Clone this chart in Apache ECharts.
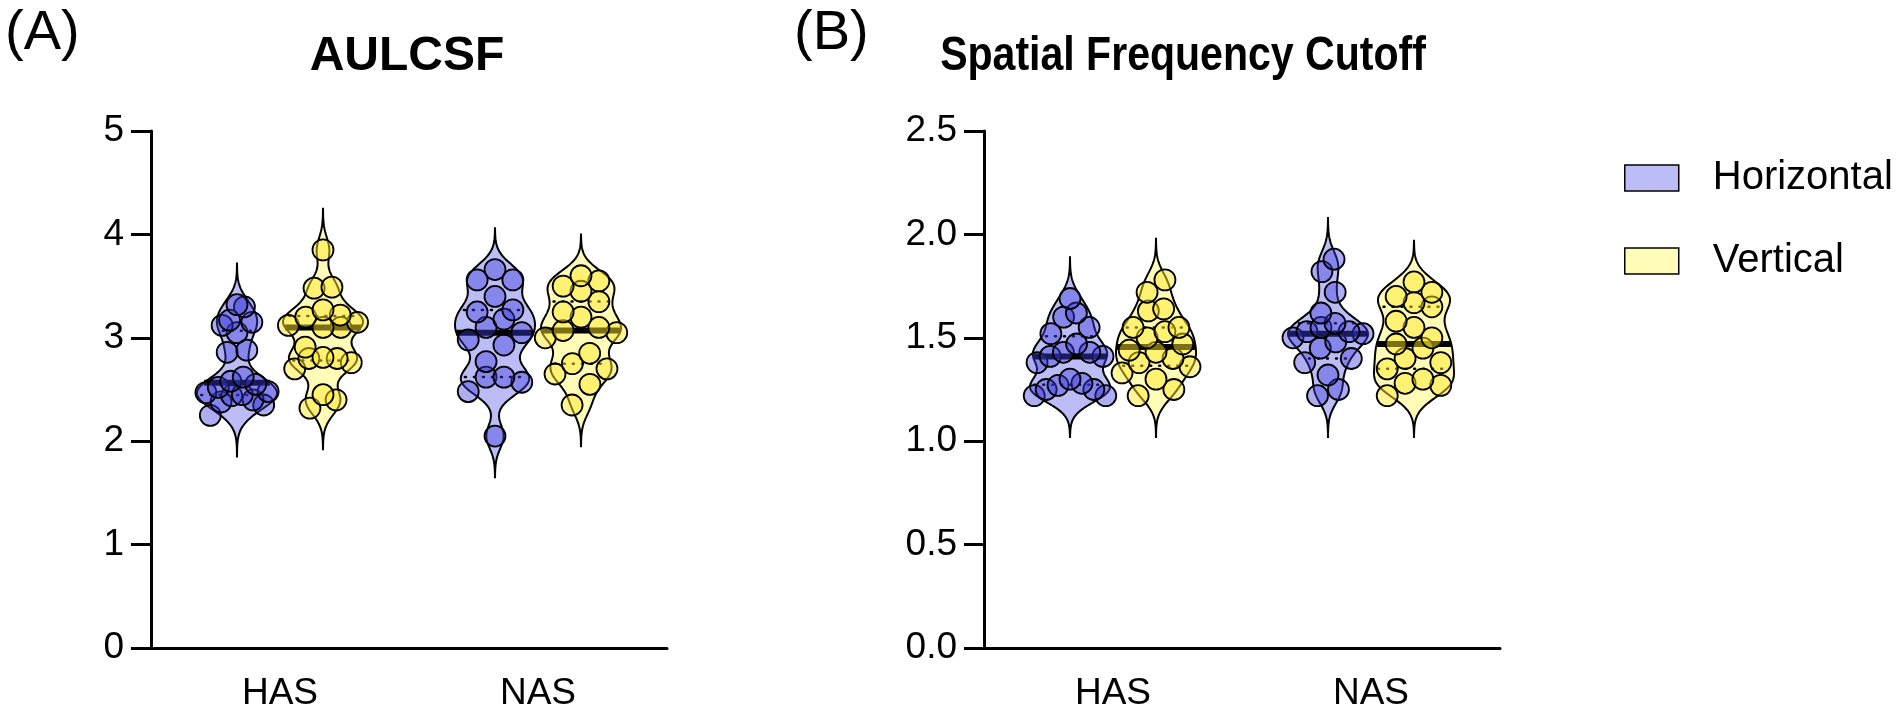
<!DOCTYPE html>
<html>
<head>
<meta charset="UTF-8">
<title>AULCSF / Spatial Frequency Cutoff</title>
<script src="https://cdn.jsdelivr.net/npm/echarts@6.0.0/dist/echarts.min.js"></script>
<style>
html, body { margin: 0; padding: 0; background: #fff; }
#chart { width: 1902px; height: 716px; }
</style>
</head>
<body>
<div id="chart"></div>
<script>
// categories / legend / tick labels
var categories = ['HAS', 'NAS'];
var conditions = ['Horizontal', 'Vertical'];
var aulcsfTicks = ['0', '1', '2', '3', '4', '5'];
var cutoffTicks = ['0.0', '0.5', '1.0', '1.5', '2.0', '2.5'];

// (A) AULCSF
var aulcsfHorizontalHAS = [2.25, 2.35, 2.38, 2.40, 2.44, 2.45, 2.47, 2.48, 2.52, 2.55, 2.58, 2.62, 2.86, 2.88, 3.05, 3.12, 3.15, 3.17, 3.30, 3.32];
var aulcsfVerticalHAS = [2.32, 2.40, 2.45, 2.70, 2.76, 2.80, 2.80, 2.81, 2.91, 3.10, 3.10, 3.12, 3.15, 3.20, 3.22, 3.27, 3.48, 3.49, 3.85];
var aulcsfHorizontalNAS = [2.05, 2.48, 2.57, 2.62, 2.62, 2.77, 2.93, 2.98, 3.05, 3.10, 3.18, 3.25, 3.27, 3.40, 3.56, 3.56, 3.66];
var aulcsfVerticalNAS = [2.35, 2.55, 2.65, 2.70, 2.75, 2.85, 3.00, 3.05, 3.07, 3.10, 3.20, 3.25, 3.35, 3.45, 3.50, 3.55, 3.60];

// (B) Spatial Frequency Cutoff
var cutoffHorizontalHAS = [1.22, 1.22, 1.25, 1.25, 1.27, 1.28, 1.30, 1.38, 1.41, 1.41, 1.43, 1.43, 1.47, 1.52, 1.55, 1.60, 1.62, 1.69];
var cutoffVerticalHAS = [1.22, 1.25, 1.30, 1.33, 1.36, 1.38, 1.40, 1.43, 1.44, 1.47, 1.50, 1.53, 1.55, 1.55, 1.63, 1.64, 1.72, 1.78];
var cutoffHorizontalNAS = [1.22, 1.25, 1.32, 1.38, 1.40, 1.45, 1.48, 1.50, 1.52, 1.53, 1.53, 1.55, 1.57, 1.62, 1.72, 1.82, 1.88];
var cutoffVerticalNAS = [1.22, 1.27, 1.28, 1.30, 1.35, 1.38, 1.40, 1.45, 1.47, 1.50, 1.55, 1.58, 1.65, 1.67, 1.70, 1.72, 1.77];

var FONT = '"Liberation Sans", Arial, Helvetica, sans-serif';
var violinFill = ['#bcbcf7', '#fffcb8'];
var dotFill = ['rgba(60,60,220,0.42)', 'rgba(255,232,40,0.48)'];
var DOT_R = 10.5;
var HALF_W = 40;   // widest point of a violin, px
var BW = 12.5;     // kde bandwidth, px

function quantile(sorted, p) {
	var pos = (sorted.length - 1) * p, lo = Math.floor(pos), hi = Math.ceil(pos);
	return sorted[lo] + (sorted[hi] - sorted[lo]) * (pos - lo);
}

// kde of one group in pixel space
function violinShape(api, g, vals, side) {
	var band = api.size([1, 0])[0];
	var cx = api.coord([g, 0])[0] + side * band / 6;
	var py = vals.map(function (v) { return api.coord([g, v])[1]; });
	function dens(y) {
		var s = 0;
		for (var i = 0; i < py.length; i++) { var d = (y - py[i]) / BW; s += Math.exp(-0.5 * d * d); }
		return s;
	}
	var top = Math.min.apply(null, py) - 3.3 * BW, bot = Math.max.apply(null, py) + 3.3 * BW;
	var n = 160, ys = [], ds = [], maxD = 0;
	for (var k = 0; k <= n; k++) {
		var y = top + (bot - top) * k / n, d = dens(y);
		ys.push(y); ds.push(d);
		if (d > maxD) maxD = d;
	}
	var scale = HALF_W / maxD;
	var pts = [];
	for (k = 0; k <= n; k++) pts.push([cx + ds[k] * scale, ys[k]]);
	for (k = n; k >= 0; k--) pts.push([cx - ds[k] * scale, ys[k]]);
	return { cx: cx, pts: pts, hw: function (y) { return dens(y) * scale; } };
}

// violin outline + median + quartiles
function makeViolin(groups, side, fill) {
	return function (params, api) {
		var g = api.value(0);
		var vals = groups[g].slice().sort(function (a, b) { return a - b; });
		var v = violinShape(api, g, vals, side);
		var children = [{
			type: 'polygon', shape: { points: v.pts },
			style: { fill: fill, stroke: '#000', lineWidth: 2 }
		}];
		[quantile(vals, 0.25), quantile(vals, 0.75)].forEach(function (q) {
			var qy = api.coord([g, q])[1], w = v.hw(qy);
			children.push({
				type: 'line', shape: { x1: v.cx - w + 4, y1: qy, x2: v.cx + w - 4, y2: qy },
				style: { stroke: '#000', lineWidth: 2.5, lineDash: [1, 8], lineCap: 'round' }
			});
		});
		var my = api.coord([g, quantile(vals, 0.5)])[1], mw = v.hw(my);
		children.push({
			type: 'line', shape: { x1: v.cx - mw, y1: my, x2: v.cx + mw, y2: my },
			style: { stroke: '#000', lineWidth: 6 }
		});
		return { type: 'group', children: children };
	};
}

// points: binned by height, each bin spread across the violin width
function makeDots(groups, side, fill) {
	return function (params, api) {
		var g = api.value(0);
		var vals = groups[g].slice().sort(function (a, b) { return a - b; });
		var v = violinShape(api, g, vals, side);
		var ys = vals.map(function (x) { return api.coord([g, x])[1]; });
		var bins = [], cur = null;
		ys.forEach(function (y) {
			if (!cur || cur[0] - y > DOT_R * 2) { cur = [y]; bins.push(cur); }
			else cur.push(y);
		});
		var circles = [];
		bins.forEach(function (b) {
			var n = b.length;
			var mid = (b[0] + b[n - 1]) / 2;
			var span = Math.min(2 * Math.max(v.hw(mid) - DOT_R * 0.4, 0), (n - 1) * DOT_R * 1.7);
			// interleave so neighbours in value do not sit side by side
			var order = [];
			for (var i = 0; i < n; i++) order.push(i % 2 === 0 ? i / 2 : n - 1 - (i - 1) / 2);
			b.forEach(function (y, i) {
				var x = n === 1 ? 0 : -span / 2 + span * order[i] / (n - 1);
				circles.push({
					type: 'circle', shape: { cx: v.cx + x, cy: y, r: DOT_R },
					style: { fill: fill, stroke: '#000', lineWidth: 1.8 }
				});
			});
		});
		return { type: 'group', children: circles };
	};
}

var panels = [
	[[aulcsfHorizontalHAS, aulcsfHorizontalNAS], [aulcsfVerticalHAS, aulcsfVerticalNAS]],
	[[cutoffHorizontalHAS, cutoffHorizontalNAS], [cutoffVerticalHAS, cutoffVerticalNAS]]
];

var series = [];
panels.forEach(function (p, pi) {
	p.forEach(function (groups, c) {
		series.push({
			type: 'custom', name: conditions[c], xAxisIndex: pi, yAxisIndex: pi,
			data: [[0], [1]], encode: { x: 0 }, z: 2, silent: true,
			itemStyle: { color: violinFill[c] },
			renderItem: makeViolin(groups, c === 0 ? -1 : 1, violinFill[c])
		});
	});
	p.forEach(function (groups, c) {
		series.push({
			type: 'custom', name: conditions[c], xAxisIndex: pi, yAxisIndex: pi,
			data: [[0], [1]], encode: { x: 0 }, z: 3, silent: true,
			itemStyle: { color: violinFill[c] },
			renderItem: makeDots(groups, c === 0 ? -1 : 1, dotFill[c])
		});
	});
});

function xAxisOf(idx) {
	return {
		type: 'category', gridIndex: idx, data: categories,
		axisLine: { lineStyle: { color: '#000', width: 3 } },
		axisTick: { alignWithLabel: true, length: 20, lineStyle: { color: '#000', width: 3 } },
		axisLabel: { color: '#000', fontSize: 37, fontFamily: FONT, margin: 27 }
	};
}
function yAxisOf(idx, max, step, ticks) {
	return {
		type: 'value', gridIndex: idx, min: 0, max: max, interval: step,
		splitLine: { show: false },
		axisLine: { show: true, lineStyle: { color: '#000', width: 3 } },
		axisTick: { show: true, length: 20, lineStyle: { color: '#000', width: 3 } },
		axisLabel: {
			color: '#000', fontSize: 37, fontFamily: FONT, margin: 27,
			formatter: function (v) { return ticks[Math.round(v / step)]; }
		}
	};
}

var chart = echarts.init(document.getElementById('chart'));
chart.setOption({
	animation: false,
	backgroundColor: '#fff',
	grid: [
		{ left: 151, top: 131, width: 516, height: 517, outerBoundsMode: 'none' },
		{ left: 984, top: 131, width: 516, height: 517, outerBoundsMode: 'none' }
	],
	xAxis: [xAxisOf(0), xAxisOf(1)],
	yAxis: [yAxisOf(0, 5, 1, aulcsfTicks), yAxisOf(1, 2.5, 0.5, cutoffTicks)],
	legend: {
		orient: 'vertical', left: 1619, top: 153,
		itemWidth: 54, itemHeight: 26, itemGap: 43, icon: 'rect',
		selectedMode: false,
		textStyle: { color: '#000', fontSize: 40, fontFamily: FONT, padding: [0, 0, 0, 29] },
		data: conditions.map(function (c, i) {
			return { name: c, itemStyle: { color: violinFill[i], borderColor: '#000', borderWidth: 1.5 } };
		})
	},
	graphic: [
		{ type: 'text', x: 5, y: 34, style: { text: '(A)', font: '56px ' + FONT, fill: '#000', textVerticalAlign: 'middle' } },
		{ type: 'text', x: 794, y: 34, style: { text: '(B)', font: '56px ' + FONT, fill: '#000', textVerticalAlign: 'middle' } },
		{ type: 'text', x: 407, y: 57, style: { text: 'AULCSF', font: 'bold 48px ' + FONT, fill: '#000', textAlign: 'center', textVerticalAlign: 'middle' } },
		{ type: 'text', x: 1183, y: 57, scaleX: 0.855, style: { text: 'Spatial Frequency Cutoff', font: 'bold 48px ' + FONT, fill: '#000', textAlign: 'center', textVerticalAlign: 'middle' } }
	],
	series: series
});
</script>
</body>
</html>
